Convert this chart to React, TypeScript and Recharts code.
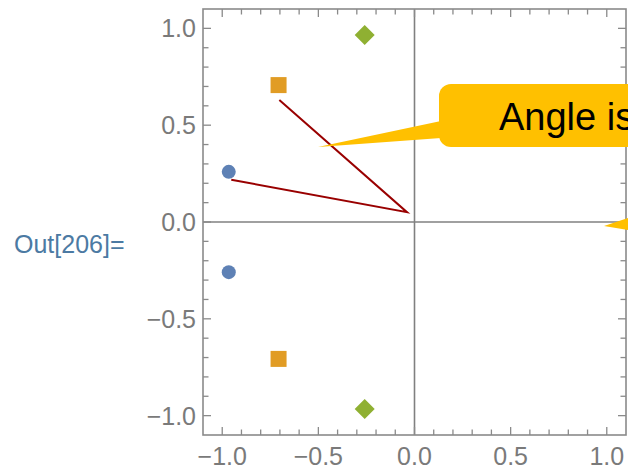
import React from 'react';
import { ScatterChart, Scatter, XAxis, YAxis, ReferenceLine } from 'recharts';

// unit circle points at 105, 135, 165 degrees (and their mirror)
const circlePts = [
  { x: -0.966, y: 0.259 },
  { x: -0.966, y: -0.259 },
];
const squarePts = [
  { x: -0.707, y: 0.707 },
  { x: -0.707, y: -0.707 },
];
const diamondPts = [
  { x: -0.259, y: 0.966 },
  { x: -0.259, y: -0.966 },
];
// hand-drawn angle wedge: circle end -> vertex -> square end
const anglePath = [
  { x: -0.953, y: 0.218 },
  { x: -0.039, y: 0.051 },
  { x: -0.703, y: 0.63 },
];

const domain: [number, number] = [-1.1, 1.1];
const tickValues = [
  -1.0, -0.9, -0.8, -0.7, -0.6, -0.5, -0.4, -0.3, -0.2, -0.1, 0,
  0.1, 0.2, 0.3, 0.4, 0.5, 0.6, 0.7, 0.8, 0.9, 1.0,
];
const calloutText = 'Angle is';
const outLabel = 'Out[206]=';

const W = 628;
const H = 469;
const MARGIN = { top: 9, right: 2, bottom: 0, left: 0 };
const X_AXIS_H = 34;
const Y_AXIS_W = 203;
const PLOT = {
  x: Y_AXIS_W,
  y: MARGIN.top,
  w: W - Y_AXIS_W - MARGIN.right,
  h: H - X_AXIS_H - MARGIN.top,
};
// same linear map as the chart's axes, for the mirrored top/right ticks of the frame
const sx = (v: number) => PLOT.x + ((v - domain[0]) / (domain[1] - domain[0])) * PLOT.w;
const sy = (v: number) => PLOT.y + ((domain[1] - v) / (domain[1] - domain[0])) * PLOT.h;

const FRAME = '#8a8a8a';
const LABEL = '#7a7a7a';
const FONT = '"Liberation Sans", Arial, sans-serif';
const TINY = 0.001;

function isMajor(v: number) {
  return Math.abs(v * 2 - Math.round(v * 2)) < 1e-6;
}
const tickLen = (v: number) => (isMajor(v) ? 8 : 5.5);

function fmt(v: number) {
  const s = Math.abs(v).toFixed(1);
  return v < 0 ? '\u2212' + s : s;
}

function BottomTick(props: any) {
  const { x, y, payload } = props;
  return (
    <g>
      <line x1={x} x2={x} y1={y} y2={y - tickLen(payload.value)} stroke={FRAME} strokeWidth={1.3} />
      {isMajor(payload.value) && (
        <text x={x} y={y + 30} textAnchor="middle" fill={LABEL} fontSize={25} fontFamily={FONT}>
          {fmt(payload.value)}
        </text>
      )}
    </g>
  );
}

function LeftTick(props: any) {
  const { x, y, payload } = props;
  return (
    <g>
      <line x1={x} x2={x + tickLen(payload.value)} y1={y} y2={y} stroke={FRAME} strokeWidth={1.3} />
      {isMajor(payload.value) && (
        <text x={x - 7} y={y + 9} textAnchor="end" fill={LABEL} fontSize={25} fontFamily={FONT}>
          {fmt(payload.value)}
        </text>
      )}
    </g>
  );
}

const circleShape = (p: any) => <circle cx={p.cx} cy={p.cy} r={7} fill="#5E81B5" />;
const squareShape = (p: any) => <rect x={p.cx - 8} y={p.cy - 8} width={16} height={16} fill="#E19C24" />;
const diamondShape = (p: any) => (
  <polygon
    points={`${p.cx},${p.cy - 10} ${p.cx + 10},${p.cy} ${p.cx},${p.cy + 10} ${p.cx - 10},${p.cy}`}
    fill="#8FB032"
  />
);

export default function App() {
  return (
    <div style={{ position: 'absolute', left: 0, top: 0, width: W, height: H, background: '#fff' }}>
      <ScatterChart width={W} height={H} margin={MARGIN}>
        <XAxis
          type="number"
          dataKey="x"
          domain={domain}
          ticks={tickValues}
          interval={0}
          height={X_AXIS_H}
          tickLine={false}
          tickSize={TINY}
          tickMargin={0}
          axisLine={false}
          tick={(p: any) => <BottomTick {...p} />}
          allowDataOverflow
        />
        <YAxis
          type="number"
          dataKey="y"
          domain={domain}
          ticks={tickValues}
          interval={0}
          width={Y_AXIS_W}
          tickLine={false}
          tickSize={TINY}
          tickMargin={0}
          axisLine={false}
          tick={(p: any) => <LeftTick {...p} />}
          allowDataOverflow
        />
        <ReferenceLine x={0} stroke="#808080" strokeWidth={1.6} />
        <ReferenceLine y={0} stroke="#808080" strokeWidth={1.6} />
        <Scatter
          data={anglePath}
          line={{ stroke: '#990000', strokeWidth: 2 }}
          shape={() => <g />}
          isAnimationActive={false}
        />
        <Scatter data={circlePts} shape={circleShape} isAnimationActive={false} />
        <Scatter data={squarePts} shape={squareShape} isAnimationActive={false} />
        <Scatter data={diamondPts} shape={diamondShape} isAnimationActive={false} />
      </ScatterChart>
      <svg width={W} height={H} style={{ position: 'absolute', left: 0, top: 0, pointerEvents: 'none' }}>
        {/* plot frame with ticks on the top and right edges */}
        <rect x={PLOT.x} y={PLOT.y} width={PLOT.w} height={PLOT.h} fill="none" stroke={FRAME} strokeWidth={1.6} />
        {tickValues.map((v) => (
          <line key={'t' + v} x1={sx(v)} x2={sx(v)} y1={PLOT.y} y2={PLOT.y + tickLen(v)} stroke={FRAME} strokeWidth={1.3} />
        ))}
        {tickValues.map((v) => (
          <line
            key={'r' + v}
            x1={PLOT.x + PLOT.w}
            x2={PLOT.x + PLOT.w - tickLen(v)}
            y1={sy(v)}
            y2={sy(v)}
            stroke={FRAME}
            strokeWidth={1.3}
          />
        ))}
        <text x={14} y={253} fontSize={25} fontFamily={FONT} fill="#4C7AA3">
          {outLabel}
        </text>
        <rect x={439} y={84} width={230} height={63} rx={12} fill="#FFC000" />
        <polygon points="441,121 441,138 318,147" fill="#FFC000" />
        <text x={499} y={130} fontSize={38} fontFamily={FONT} fill="#000">
          {calloutText}
        </text>
        <polygon points="604,226 640,214 640,232" fill="#FFC000" />
      </svg>
    </div>
  );
}
